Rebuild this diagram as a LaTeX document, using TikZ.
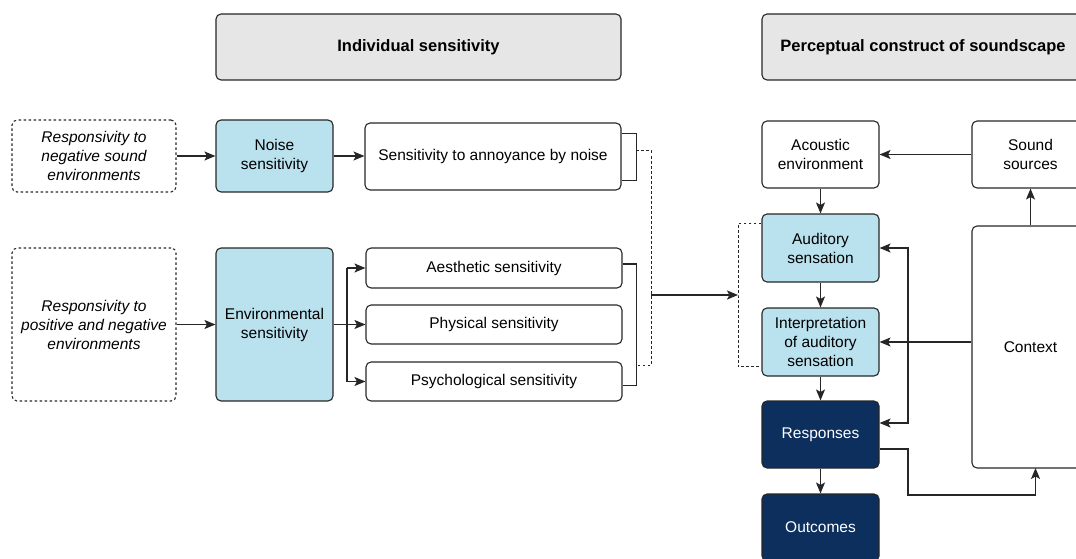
\documentclass[tikz,border=0pt]{standalone}
\usepackage{fontspec}
\setmainfont{Liberation Sans}
\usetikzlibrary{arrows.meta,calc}
\definecolor{lblue}{HTML}{B9E1EE}
\definecolor{navyfill}{HTML}{0C2F5E}
\definecolor{hgray}{HTML}{E6E6E6}
\definecolor{ln}{HTML}{262626}
\tikzset{
  box/.style={draw=ln, line width=1.1pt, rounded corners=5pt, align=center, inner sep=0pt,
    font=\fontsize{15.5}{19}\selectfont},
  hdr/.style={box, fill=hgray, font=\fontsize{16.5}{19}\selectfont\bfseries},
  bluebox/.style={box, fill=lblue},
  navybox/.style={box, fill=navyfill, text=white},
  dbox/.style={box, dash pattern=on 2.5pt off 2.5pt, font=\fontsize{15.5}{19}\selectfont\itshape},
  conn/.style={draw=ln, line width=1.2pt},
  tip/.tip={Stealth[length=11pt,width=9pt,inset=2.5pt]},
  arr/.style={conn, -tip},
  arrboth/.style={conn, tip-tip},
  dline/.style={draw=ln, line width=1pt, dash pattern=on 2.5pt off 2.5pt},
}
\begin{document}
\begin{tikzpicture}[x=1pt,y=-1pt]
\useasboundingbox (0,0) rectangle (1076,559);
\clip (0,0) rectangle (1076,559);
% headers
\node[hdr, minimum width=405pt, minimum height=66pt] (h1) at (418.5,47) {Individual sensitivity};
\node[hdr, minimum width=322pt, minimum height=66pt] (h2) at (923,47) {Perceptual construct of soundscape};
% left side
\node[dbox, minimum width=164pt, minimum height=72pt] (r1) at (94,156) {Responsivity to\\negative sound\\environments};
\node[bluebox, minimum width=117pt, minimum height=72pt] (ns) at (274.5,156) {Noise\\sensitivity};
\node[box, minimum width=256pt, minimum height=67pt] (ann) at (493,156.5) {Sensitivity to annoyance by noise};
\node[dbox, minimum width=164pt, minimum height=153pt] (r2) at (94,324.5) {Responsivity to\\positive and negative\\environments};
\node[bluebox, minimum width=117pt, minimum height=153pt] (es) at (274.5,324.5) {Environmental\\sensitivity};
\node[box, minimum width=256pt, minimum height=40pt] (aes) at (494,268) {Aesthetic sensitivity};
\node[box, minimum width=256pt, minimum height=39pt] (phy) at (494,324.5) {Physical sensitivity};
\node[box, minimum width=256pt, minimum height=39pt] (psy) at (494,381.5) {Psychological sensitivity};
% right side
\node[box, minimum width=117pt, minimum height=67pt] (ac) at (820.5,154.5) {Acoustic\\environment};
\node[box, minimum width=117pt, minimum height=67pt] (ss) at (1030.5,154.5) {Sound\\sources};
\node[bluebox, minimum width=117pt, minimum height=68pt] (aud) at (820.5,248) {Auditory\\sensation};
\node[bluebox, minimum width=117pt, minimum height=68pt] (int) at (820.5,342) {Interpretation\\of auditory\\sensation};
\node[navybox, minimum width=117pt, minimum height=67pt] (resp) at (820.5,434.5) {Responses};
\node[navybox, minimum width=117pt, minimum height=67pt] (out) at (820.5,527.5) {Outcomes};
\node[box, minimum width=117pt, minimum height=242pt] (ctx) at (1030.5,347) {Context};
% coordinates
\coordinate (br) at (347,324.5);
\coordinate (b1a) at (636,151);
\coordinate (d1) at (651,151);
\coordinate (d2) at (651,365);
\coordinate (b2a) at (636,365);
\coordinate (m) at (651,295);
\coordinate (t) at (738,295);
\coordinate (v) at (908,423);
\coordinate (w) at (908,495);
\coordinate (cb) at (1035.5,468);
% left connectors
\draw[arr] (r1) -- (ns);
\draw[arr] (ns.east) -- (ns.east -| ann.west);
\draw[arr] (r2) -- (es);
\draw[conn] (es.east) -- (br);
\draw[conn] (br |- aes.west) -- (br |- psy.west);
\draw[arr] (br |- aes.west) -- (aes.west);
\draw[arr] (br) -- (phy.west);
\draw[arr] (br |- psy.west) -- (psy.west);
\draw[conn] ($(ann.east)+(0,-23)$) -- ++(15,0) -- ++(0,47) -- ++(-15,0);
\draw[conn] ($(aes.east)+(0,-4)$) -- ++(14,0) |- ($(psy.east)+(0,4)$);
\draw[dline] (b1a) -- (d1) -- (d2) -- (b2a);
\draw[arr, line width=2pt] (m) -- (t);
\draw[dline] ($(aud.north west)+(0,10)$) -| (t) |- ($(int.south west)+(0,-10)$);
% right connectors
\draw[arr] (ss) -- (ac);
\draw[arr] (ac) -- (aud);
\draw[arr] (aud) -- (int);
\draw[arr] (int) -- (resp);
\draw[arr] (resp) -- (out);
\draw[arr] (ctx) -- (ss);
\draw[arr] (int.east -| ctx.west) -- (int.east);
\draw[arrboth] (aud.east) -| (v) -- (v -| resp.east);
\draw[arr] ($(resp.east)+(0,14.5)$) -| (w) -| (cb);
\end{tikzpicture}
\end{document}
